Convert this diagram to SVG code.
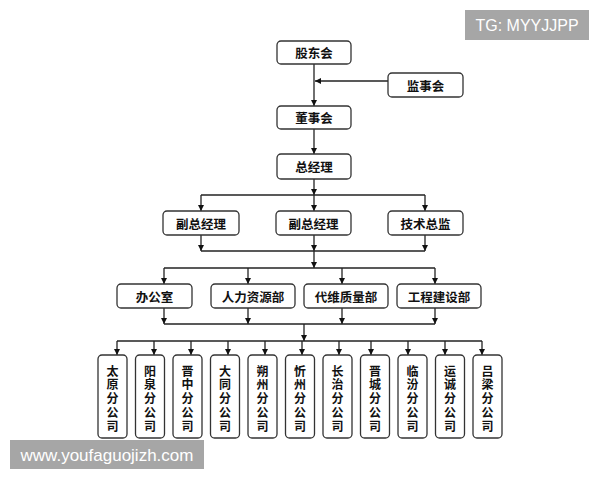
<svg xmlns="http://www.w3.org/2000/svg" width="600" height="480" viewBox="0 0 600 480">
<defs>
<marker id="ah" viewBox="0 0 10 10" refX="10" refY="5" markerWidth="6" markerHeight="6" markerUnits="userSpaceOnUse" orient="auto">
<path d="M0,0 L10,5 L0,10 z" fill="#111"/>
</marker>
<style>
.box{fill:#fff;stroke:#333;stroke-width:1.3}
.t{font-family:"Noto Sans CJK SC","Noto Sans",sans-serif;font-weight:bold;font-size:12.5px;fill:#111;text-anchor:middle;dominant-baseline:central}
.v{font-family:"Noto Sans CJK SC","Noto Sans",sans-serif;font-weight:bold;font-size:12px;fill:#111;writing-mode:vertical-rl;letter-spacing:1.75px;text-anchor:start}
.ln{stroke:#222;stroke-width:1.3;fill:none}
.ar{stroke:#222;stroke-width:1.3;fill:none;marker-end:url(#ah)}
.wm{fill:#a6a6a6}
.wt{font-family:"Liberation Sans",Arial,sans-serif;fill:#fff}
</style>
</defs>
<rect width="600" height="480" fill="#fff"/>
<g id="connectors">
<line class="ar" x1="314" y1="64" x2="314" y2="106"/>
<line class="ar" x1="388" y1="81" x2="315" y2="81"/>
<line class="ar" x1="314" y1="129" x2="314" y2="154"/>
<line class="ar" x1="314" y1="179" x2="314" y2="195"/>
<line class="ln" x1="201" y1="195" x2="425" y2="195"/>
<line class="ar" x1="201" y1="195" x2="201" y2="211"/>
<line class="ar" x1="314" y1="195" x2="314" y2="211"/>
<line class="ar" x1="425" y1="195" x2="425" y2="211"/>
<line class="ar" x1="201" y1="235" x2="201" y2="251"/>
<line class="ar" x1="314" y1="235" x2="314" y2="251"/>
<line class="ar" x1="425" y1="235" x2="425" y2="251"/>
<line class="ln" x1="201" y1="251" x2="425" y2="251"/>
<line class="ar" x1="314" y1="251" x2="314" y2="268"/>
<line class="ln" x1="164" y1="268" x2="435" y2="268"/>
<line class="ar" x1="164" y1="268" x2="164" y2="284"/>
<line class="ar" x1="248" y1="268" x2="248" y2="284"/>
<line class="ar" x1="342" y1="268" x2="342" y2="284"/>
<line class="ar" x1="435" y1="268" x2="435" y2="284"/>
<line class="ar" x1="164" y1="308" x2="164" y2="324"/>
<line class="ar" x1="248" y1="308" x2="248" y2="324"/>
<line class="ar" x1="342" y1="308" x2="342" y2="324"/>
<line class="ar" x1="435" y1="308" x2="435" y2="324"/>
<line class="ln" x1="164" y1="324" x2="435" y2="324"/>
<line class="ar" x1="304" y1="324" x2="304" y2="341"/>
<line class="ln" x1="117" y1="341" x2="482" y2="341"/>
<line class="ar" x1="117" y1="341" x2="117" y2="355"/>
<line class="ar" x1="154" y1="341" x2="154" y2="355"/>
<line class="ar" x1="191" y1="341" x2="191" y2="355"/>
<line class="ar" x1="228" y1="341" x2="228" y2="355"/>
<line class="ar" x1="265" y1="341" x2="265" y2="355"/>
<line class="ar" x1="302" y1="341" x2="302" y2="355"/>
<line class="ar" x1="339" y1="341" x2="339" y2="355"/>
<line class="ar" x1="371" y1="341" x2="371" y2="355"/>
<line class="ar" x1="408" y1="341" x2="408" y2="355"/>
<line class="ar" x1="445" y1="341" x2="445" y2="355"/>
<line class="ar" x1="482" y1="341" x2="482" y2="355"/>
</g>
<g id="gudonghui"><rect class="box" x="277" y="41" width="74" height="23" rx="4"/><text class="t" x="314" y="52.5">股东会</text></g>
<g id="jianshihui"><rect class="box" x="388" y="73" width="75" height="24" rx="4"/><text class="t" x="425.5" y="85">监事会</text></g>
<g id="dongshihui"><rect class="box" x="277" y="106" width="74" height="23" rx="4"/><text class="t" x="314" y="117.5">董事会</text></g>
<g id="zongjingli"><rect class="box" x="277" y="154" width="74" height="25" rx="4"/><text class="t" x="314" y="166.5">总经理</text></g>
<g id="fuzong1"><rect class="box" x="163" y="211" width="76" height="24" rx="4"/><text class="t" x="201" y="223">副总经理</text></g>
<g id="fuzong2"><rect class="box" x="276" y="211" width="75" height="24" rx="4"/><text class="t" x="313.5" y="223">副总经理</text></g>
<g id="jishuzongjian"><rect class="box" x="388" y="211" width="75" height="24" rx="4"/><text class="t" x="425.5" y="223">技术总监</text></g>
<g id="bangongshi"><rect class="box" x="117" y="284" width="75" height="24" rx="4"/><text class="t" x="154.5" y="296">办公室</text></g>
<g id="renli"><rect class="box" x="211" y="284" width="84" height="24" rx="4"/><text class="t" x="253" y="296">人力资源部</text></g>
<g id="daiwei"><rect class="box" x="304" y="284" width="84" height="24" rx="4"/><text class="t" x="346" y="296">代维质量部</text></g>
<g id="gongcheng"><rect class="box" x="397" y="284" width="84" height="24" rx="4"/><text class="t" x="439" y="296">工程建设部</text></g>
<g id="taiyuan"><rect class="box" x="98" y="355" width="29" height="83" rx="4"/><text class="v" x="112.5" y="365">太原分公司</text></g>
<g id="yangquan"><rect class="box" x="135.5" y="355" width="29" height="83" rx="4"/><text class="v" x="150" y="365">阳泉分公司</text></g>
<g id="jinzhong"><rect class="box" x="173" y="355" width="29" height="83" rx="4"/><text class="v" x="187.5" y="365">晋中分公司</text></g>
<g id="datong"><rect class="box" x="210.5" y="355" width="29" height="83" rx="4"/><text class="v" x="225" y="365">大同分公司</text></g>
<g id="shuozhou"><rect class="box" x="248" y="355" width="29" height="83" rx="4"/><text class="v" x="262.5" y="365">朔州分公司</text></g>
<g id="xinzhou"><rect class="box" x="285.5" y="355" width="29" height="83" rx="4"/><text class="v" x="300" y="365">忻州分公司</text></g>
<g id="changzhi"><rect class="box" x="323" y="355" width="29" height="83" rx="4"/><text class="v" x="337.5" y="365">长治分公司</text></g>
<g id="jincheng"><rect class="box" x="360.5" y="355" width="29" height="83" rx="4"/><text class="v" x="375" y="365">晋城分公司</text></g>
<g id="linfen"><rect class="box" x="398" y="355" width="29" height="83" rx="4"/><text class="v" x="412.5" y="365">临汾分公司</text></g>
<g id="yuncheng"><rect class="box" x="435.5" y="355" width="29" height="83" rx="4"/><text class="v" x="450" y="365">运诚分公司</text></g>
<g id="lvliang"><rect class="box" x="473" y="355" width="29" height="83" rx="4"/><text class="v" x="487.5" y="365">吕梁分公司</text></g>
<g id="wm-top"><rect class="wm" x="465" y="10" width="124" height="30"/><text class="wt" x="527" y="31" font-size="16" text-anchor="middle">TG: MYYJJPP</text></g>
<g id="wm-bottom"><rect class="wm" x="10" y="440" width="194" height="29"/><text class="wt" x="107" y="460.5" font-size="17" text-anchor="middle">www.youfaguojizh.com</text></g>
</svg>
